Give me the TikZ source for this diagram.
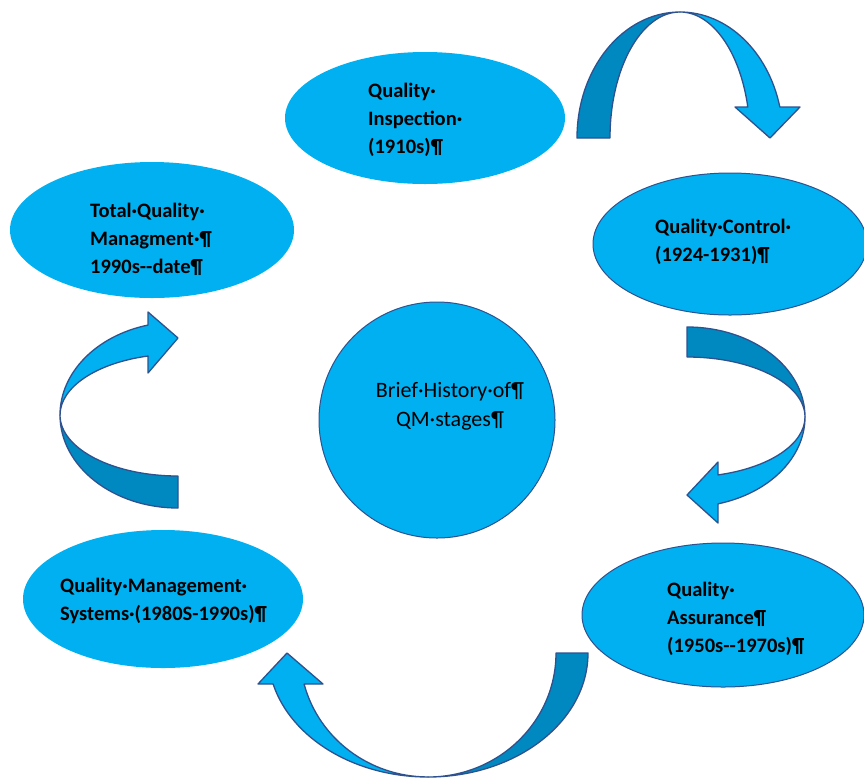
\documentclass[tikz,border=0pt]{standalone}
\usepackage{fontspec}
\setmainfont{Carlito}
\usetikzlibrary{shapes.geometric}
\definecolor{fillblue}{HTML}{00B0F0}
\definecolor{bandback}{HTML}{0089C0}
\definecolor{edgeblue}{HTML}{2F528F}
\begin{document}
\begin{tikzpicture}[x=1pt,y=-1pt,
  stage/.style={ellipse, fill=fillblue, inner sep=0pt, outer sep=0pt},
  outlined/.style={draw=edgeblue, line width=1pt},
  label/.style={anchor=west, align=left, inner sep=0pt,
    font=\fontsize{20.5}{28}\selectfont\bfseries},
  backband/.style={fill=bandback, draw=edgeblue, line width=1.3pt, line join=round},
  frontband/.style={fill=fillblue, draw=edgeblue, line width=1.3pt, line join=round}]
\clip (0,0) rectangle (864,780);
\fill[white] (0,0) rectangle (864,780);

% stages
\node[stage, minimum width=280, minimum height=132] (qi) at (425,118) {};
\node[stage, outlined, minimum width=274, minimum height=142] (qc) at (730,244) {};
\node[stage, outlined, minimum width=282, minimum height=144] (qa) at (723,615) {};
\node[stage, minimum width=280, minimum height=138] (qms) at (163,599) {};
\node[stage, minimum width=284, minimum height=136] (tqm) at (152,230) {};
\node[circle, fill=fillblue, outlined, minimum size=236, inner sep=0pt] (hub) at (437,420) {};

\node[label] (qi-text) at (368,120) {Quality·\\Inspection·\\(1910s)¶};
\node[label] (qc-text) at (655,242) {Quality·Control·\\(1924-1931)¶};
\node[label] (qa-text) at (667,619) {Quality·\\Assurance¶\\(1950s-{}-1970s)¶};
\node[label] (qms-text) at (60,601) {Quality·Management·\\Systems·(1980S-1990s)¶};
\node[label] (tqm-text) at (90,239) {Total·Quality·\\Managment·¶\\1990s-{}-date¶};
\node[align=center, inner sep=0pt, font=\fontsize{22}{29}\selectfont] (hub-text) at (450,406)
  {Brief·History·of¶\\QM·stages¶};

% curved arrow: inspection -> control
\filldraw[backband] (577,138) arc[start angle=180,end angle=270,x radius=103,y radius=126]
  arc[start angle=270,end angle=180,x radius=70,y radius=126] -- cycle;
\filldraw[frontband] (680,12) arc[start angle=270,end angle=345.76,x radius=103,y radius=126]
  -- (800,107) -- (770,138) -- (735,107) -- (747.8,107)
  arc[start angle=345.76,end angle=270,x radius=70,y radius=126] -- cycle;

% curved arrow: control -> assurance
\filldraw[backband] (687,327) arc[start angle=270,end angle=360,x radius=118,y radius=90]
  arc[start angle=0,end angle=-90,x radius=118,y radius=60] -- cycle;
\filldraw[frontband] (805,417) arc[start angle=0,end angle=74.77,x radius=118,y radius=90]
  -- (718,523) -- (687,495) -- (718,462) -- (718,474.9)
  arc[start angle=74.77,end angle=0,x radius=118,y radius=60] -- cycle;

% curved arrow: assurance -> management systems
\filldraw[backband] (588,653) arc[start angle=0,end angle=90,x radius=160,y radius=124]
  arc[start angle=90,end angle=0,x radius=128,y radius=124] -- cycle;
\filldraw[frontband] (428,777) arc[start angle=90,end angle=165.5,x radius=160,y radius=124]
  -- (258,684) -- (287,653) -- (323,684) -- (304.1,684)
  arc[start angle=165.5,end angle=90,x radius=128,y radius=124] -- cycle;

% curved arrow: management systems -> total quality
\filldraw[backband] (60,415) arc[start angle=180,end angle=90,x radius=118,y radius=93]
  -- (178,476) arc[start angle=90,end angle=180,x radius=118,y radius=61] -- cycle;
\filldraw[frontband] (60,415) arc[start angle=180,end angle=255.3,x radius=118,y radius=93]
  -- (148,312) -- (178,338) -- (148,373) -- (148.1,356)
  arc[start angle=255.3,end angle=180,x radius=118,y radius=61] -- cycle;
\end{tikzpicture}
\end{document}
